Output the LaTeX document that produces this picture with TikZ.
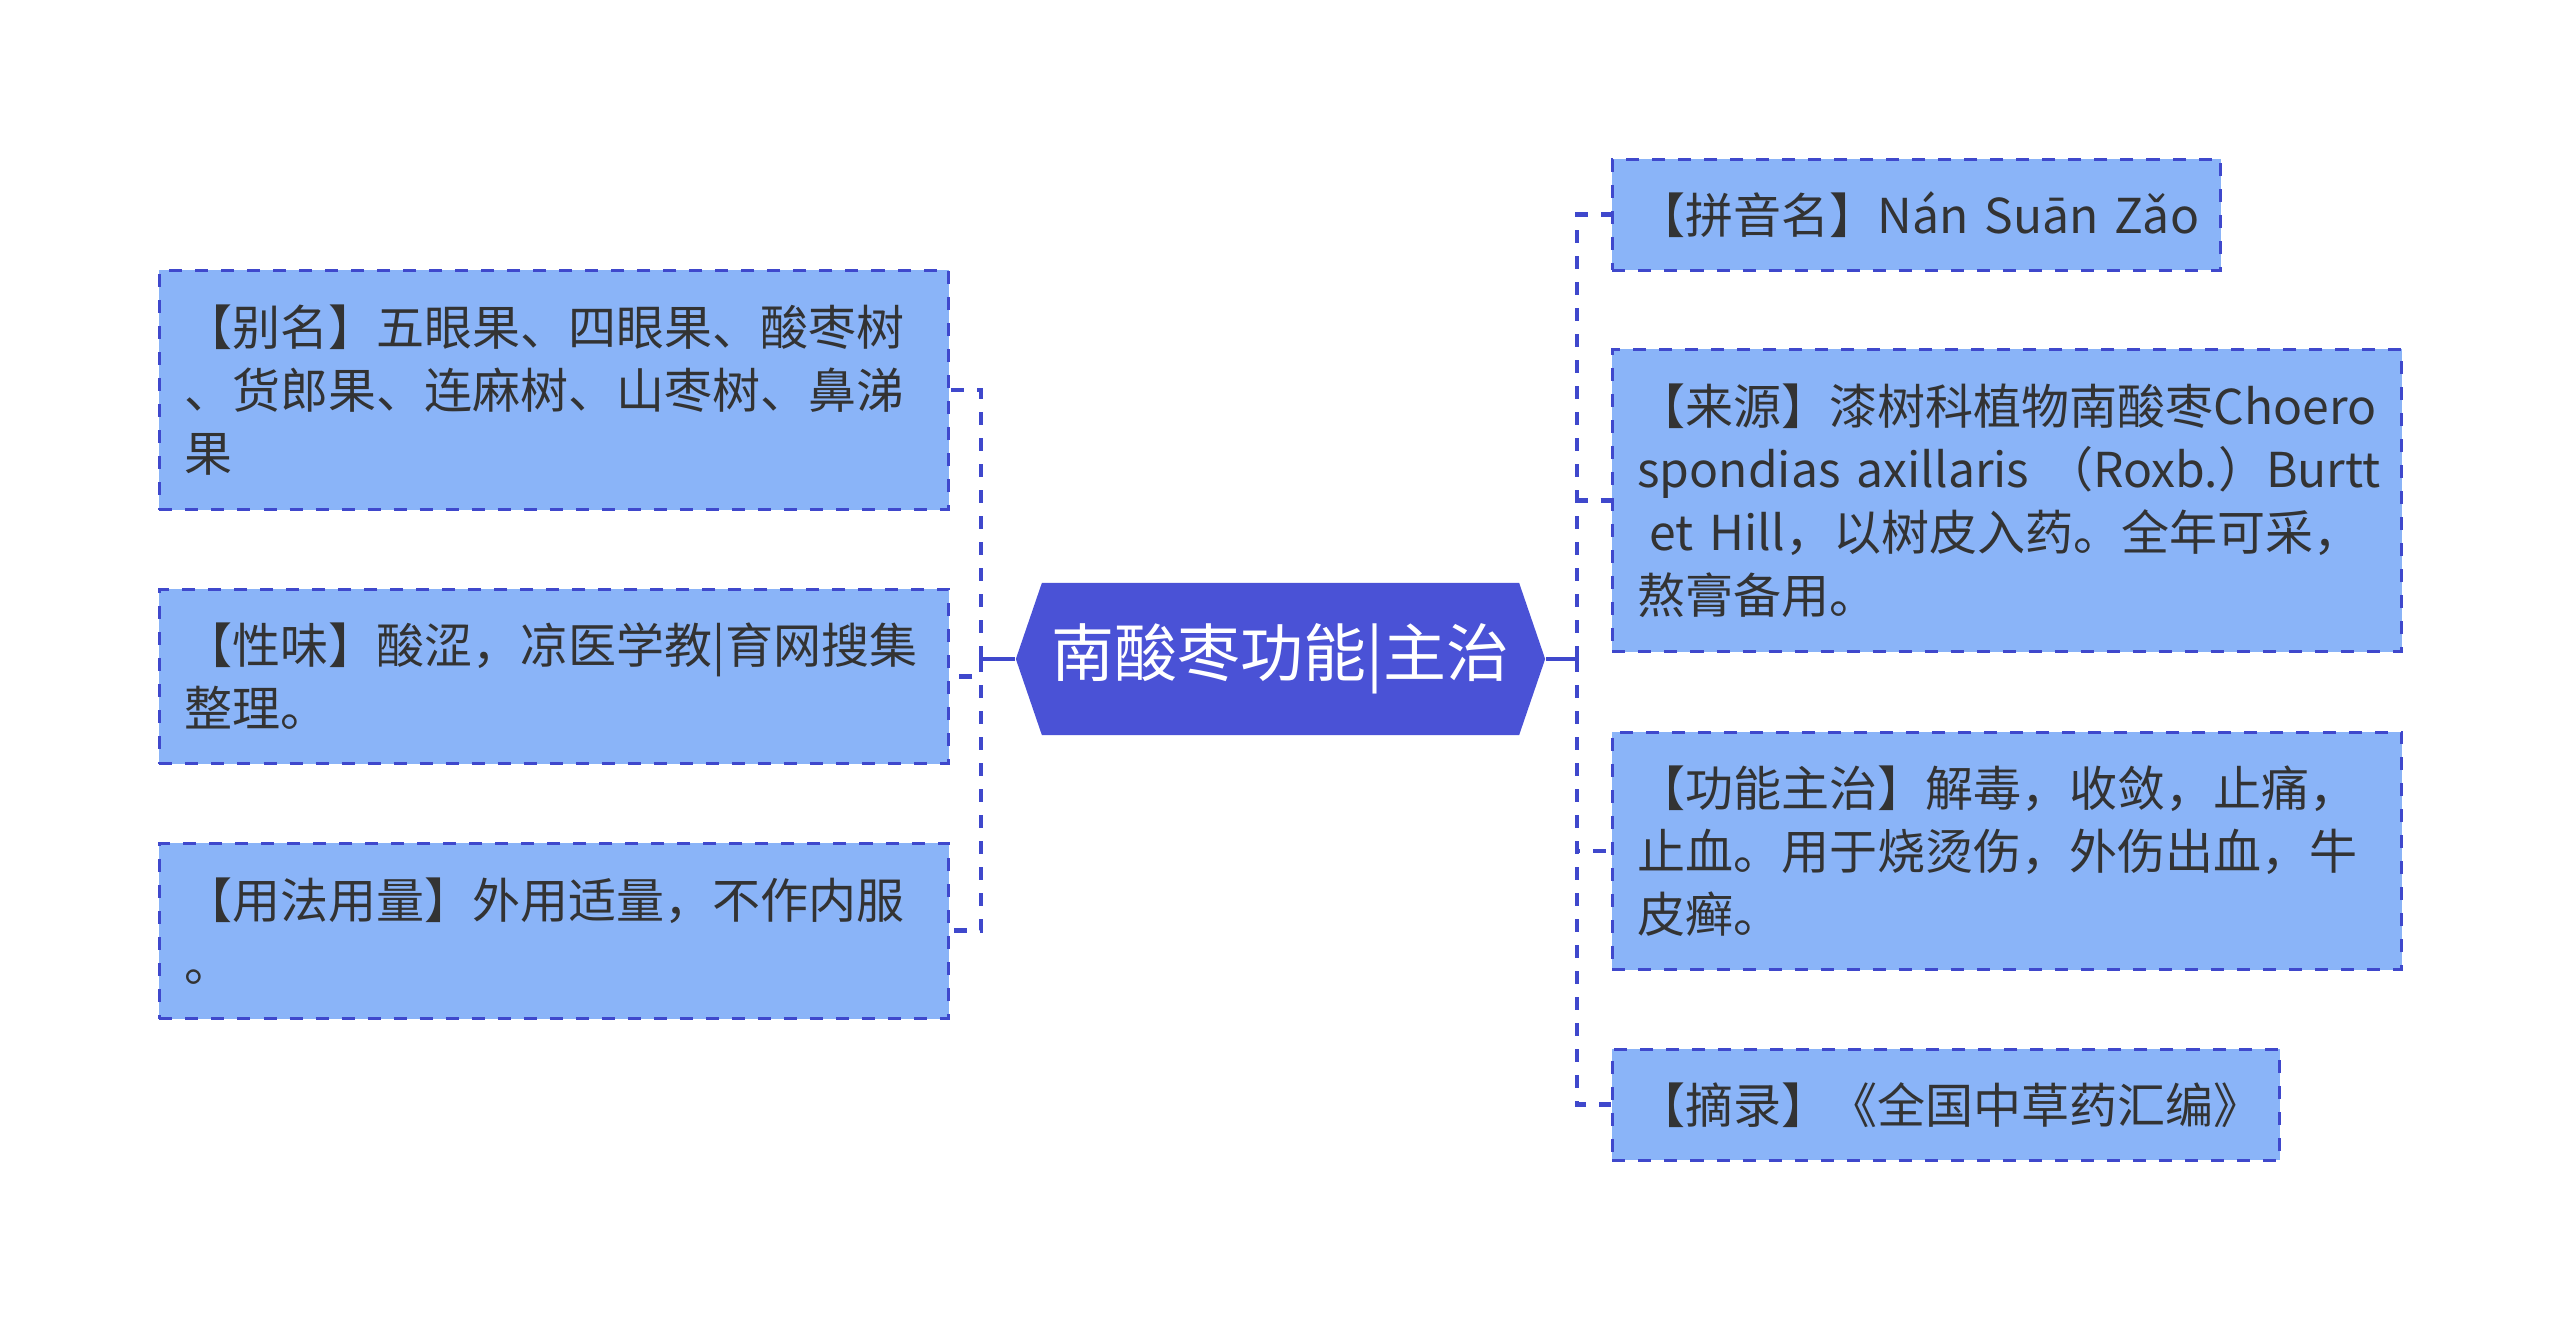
\documentclass[tikz,border=0pt]{standalone}
\usepackage{fontspec}
\setmainfont{Noto Sans CJK SC}
\usetikzlibrary{positioning,calc}
\definecolor{ink}{HTML}{333333}
\definecolor{hubf}{HTML}{4A52D6}
\definecolor{leaff}{HTML}{8AB4F8}
\definecolor{ln}{HTML}{3F48CC}
\tikzset{
  hub/.style={rectangle,fill=white,text=white,minimum width=5.29cm,minimum height=1.52cm,inner sep=0pt,font=\fontsize{17.9pt}{20pt}\selectfont,
    path picture={\fill[hubf] (path picture bounding box.west) -- ([xshift=0.26cm]path picture bounding box.north west) -- ([xshift=-0.26cm]path picture bounding box.north east) -- (path picture bounding box.east) -- ([xshift=-0.26cm]path picture bounding box.south east) -- ([xshift=0.26cm]path picture bounding box.south west) -- cycle;}},
  leaf/.style={draw=ln,fill=leaff,line width=0.8pt,dash pattern=on 3.7pt off 3.7pt,text=ink,align=left,anchor=north west,inner xsep=0.25cm,inner ysep=0pt,font=\fontsize{13.66pt}{17.93pt}\selectfont},
  stem/.style={draw=ln,line width=1.4pt},
  link/.style={stem,dash pattern=on 3.7pt off 3.7pt}
}
\begin{document}
\begin{tikzpicture}[x=0.01cm,y=-0.01cm]
\useasboundingbox[fill=white] (0,0) rectangle (2560,1319);
% centre
\node[hub] (hub) at (1280.5,659) {南酸枣功能|主治};
\coordinate (lbus) at (981,659);
\coordinate (rbus) at (1577,659);
% left branch
\node[leaf,text width=7.39cm,minimum height=2.39cm] (alias) at (158,269) {【别名】五眼果、四眼果、酸枣树\\、货郎果、连麻树、山枣树、鼻涕\\果};
\node[leaf,text width=7.39cm,minimum height=1.74cm] (taste) at (158,588) {【性味】酸涩，凉医学教|育网搜集\\整理。};
\node[leaf,text width=7.39cm,minimum height=1.75cm] (dose) at (158,842) {【用法用量】外用适量，不作内服\\。};
% right branch
\node[leaf,text width=5.58cm,minimum height=1.11cm] (pinyin) at (1611,158) {【拼音名】\mbox{Nán Suān Zǎo}};
\node[leaf,text width=7.39cm,minimum height=3.02cm] (source) at (1611,348) {【来源】漆树科植物南酸枣Choero\\\mbox{spondias axillaris （Roxb.）Burtt}\\\hspace*{0.25em}et~Hill，以树皮入药。全年可采，\\熬膏备用。};
\node[leaf,text width=7.39cm,minimum height=2.37cm] (usage) at (1611,731) {【功能主治】解毒，收敛，止痛，\\止血。用于烧烫伤，外伤出血，牛\\皮癣。};
\node[leaf,text width=6.17cm,minimum height=1.11cm] (excerpt) at (1611,1048) {【摘录】《全国中草药汇编》};
% connectors
\draw[stem] (hub.west) -- (lbus);
\draw[stem] (hub.east) -- (rbus);
\foreach \n in {alias,taste,dose} \draw[link] (lbus) |- (\n.east);
\foreach \n in {pinyin,source,usage,excerpt} \draw[link] (rbus) |- (\n.west);
\end{tikzpicture}
\end{document}
